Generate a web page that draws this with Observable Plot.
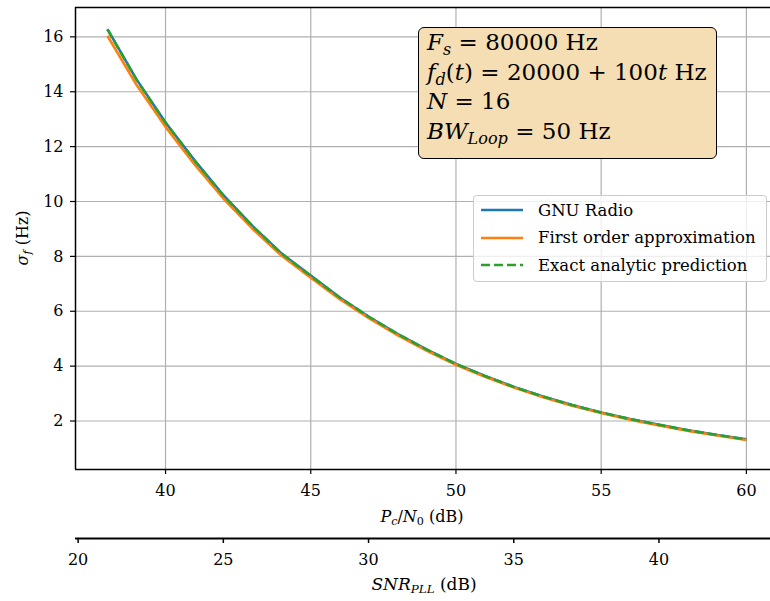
<!DOCTYPE html>
<html><head><meta charset="utf-8">
<script src="https://cdn.jsdelivr.net/npm/d3@7"></script>
<script src="https://cdn.jsdelivr.net/npm/@observablehq/plot@0.6"></script>
<style>
body{margin:0;background:#fff;}
#wrap{position:relative;width:770px;height:601px;overflow:hidden;font-family:"DejaVu Serif",serif;color:#000;}
#wrap svg{position:absolute;left:0;top:0;}
#wrap div, #wrap span, #wrap i{font-family:"DejaVu Serif",serif;}
.lab{position:absolute;font-size:16px;white-space:nowrap;transform:translate(-50%,-50%);}
sub{font-size:0.7em;vertical-align:-0.28em;line-height:0;}
#note{position:absolute;left:418px;top:27px;width:299px;height:132px;box-sizing:border-box;background:#f5deb3;border:1.5px solid #000;border-radius:6px;padding:0 0 0 8px;font-size:23px;line-height:29.5px;white-space:nowrap;}
#legend{position:absolute;left:473px;top:195px;width:294px;height:87px;box-sizing:border-box;background:rgba(255,255,255,0.8);border:1px solid #cccccc;border-radius:4px;font-size:16.5px;}
.row{position:absolute;left:7px;height:20px;display:flex;align-items:center;white-space:nowrap;}
.row svg{position:static !important;margin-right:15px;}
</style></head><body><div id="wrap"></div>
<script>
// ---- data ----
const pcN0 = [38,39,40,41,42,43,44,45,46,47,48,49,50,51,52,53,54,55,56,57,58,59,60];
const gnuRadio = [16.28,14.45,12.88,11.50,10.22,9.10,8.10,7.30,6.50,5.80,5.17,4.60,4.08,3.64,3.24,2.89,2.58,2.31,2.07,1.86,1.66,1.49,1.33];
const firstOrder = [16.04,14.25,12.72,11.35,10.10,9.00,8.02,7.22,6.44,5.75,5.12,4.56,4.05,3.61,3.22,2.87,2.56,2.29,2.05,1.84,1.64,1.47,1.31];
const exactAnalytic = [16.27,14.44,12.87,11.49,10.21,9.10,8.10,7.29,6.50,5.80,5.17,4.60,4.08,3.64,3.24,2.89,2.58,2.31,2.07,1.86,1.66,1.49,1.33];
const seriesNames = ["GNU Radio","First order approximation","Exact analytic prediction"];
const seriesColors = ["#1f77b4","#ff7f0e","#2ca02c"];
const seriesDash = [null,null,"9,4"];
const xTicks = [40,45,50,55,60];
const yTicks = [2,4,6,8,10,12,14,16];
const snrTicks = [20,25,30,35,40];
const xDomain = [36.9,60.83];
const yDomain = [0.233,17.07];
const snrDomain = [19.91,43.84];
const noteLines = [
  "<i>F</i><sub><i>s</i></sub> = 80000 Hz",
  "<i>f</i><sub><i>d</i></sub>(<i>t</i>) = 20000 + 100<i>t</i> Hz",
  "<i>N</i> = 16",
  "<i>BW</i><sub><i>Loop</i></sub> = 50 Hz"
];

const seriesValues = [gnuRadio, firstOrder, exactAnalytic];
const rows = seriesValues.map((vals,k)=>pcN0.map((x,i)=>({x, y: vals[i], s: seriesNames[k]})));

const wrap = document.getElementById("wrap");
const font = {fontFamily:"'DejaVu Serif', serif", fontSize:"16px", background:"transparent", color:"#000", overflow:"visible"};

const main = Plot.plot({
  width:770, height:601, marginLeft:75, marginRight:0, marginTop:7, marginBottom:132,
  style: font,
  x:{domain:xDomain},
  y:{domain:yDomain},
  marks:[
    Plot.gridX(xTicks,{stroke:"#b0b0b0", strokeOpacity:1, strokeWidth:1.2}),
    Plot.gridY(yTicks,{stroke:"#b0b0b0", strokeOpacity:1, strokeWidth:1.2}),
    ...rows.map((r,k)=>Plot.line(r,{x:"x", y:"y", stroke:seriesColors[k], strokeWidth:2.6, strokeDasharray:seriesDash[k], strokeLinecap:"butt"})),
    Plot.ruleX([xDomain[0]],{stroke:"#000", strokeWidth:1.5}),
    Plot.ruleY([yDomain[0]],{stroke:"#000", strokeWidth:1.5}),
    Plot.ruleY([yDomain[1]],{stroke:"#000", strokeWidth:1.5}),
    Plot.axisX(xTicks,{tickSize:5, tickPadding:10, label:null, strokeWidth:1.2, fontFamily:"DejaVu Serif"}),
    Plot.axisY(yTicks,{tickSize:5, tickPadding:7, label:null, strokeWidth:1.2, fontFamily:"DejaVu Serif"})
  ]
});
wrap.appendChild(main);

const sec = Plot.plot({
  width:770, height:601, marginLeft:75, marginRight:0, marginTop:537, marginBottom:63,
  style: font,
  x:{domain:snrDomain},
  y:{domain:[0,1], axis:null},
  marks:[
    Plot.ruleY([0],{stroke:"#000", strokeWidth:1.8}),
    Plot.axisX(snrTicks,{tickSize:5, tickPadding:10, label:null, strokeWidth:1.5, fontFamily:"DejaVu Serif"})
  ]
});
wrap.appendChild(sec);

function addLabel(html, x, y, rotate, size){
  const d = document.createElement("div");
  d.className = "lab";
  d.innerHTML = html;
  d.style.left = x+"px"; d.style.top = y+"px";
  if (size) d.style.fontSize = size+"px";
  if (rotate) d.style.transform = "translate(-50%,-50%) rotate(-90deg)";
  wrap.appendChild(d);
}
addLabel("<i>P<sub>c</sub></i>/<i>N</i><sub>0</sub> (dB)", 422, 516);
addLabel("<i>SNR<sub>PLL</sub></i> (dB)", 424, 584, false, 17);
addLabel("<i>σ<sub>f</sub></i> (Hz)", 22, 238, true);

const note = document.createElement("div");
note.id = "note";
note.innerHTML = noteLines.map(l=>"<div>"+l+"</div>").join("");
wrap.appendChild(note);

const legend = document.createElement("div");
legend.id = "legend";
legend.innerHTML = seriesNames.map((n,k)=>
  `<div class="row" style="top:${4+k*27.5}px"><svg width="42" height="6"><line x1="0" y1="3" x2="42" y2="3" stroke="${seriesColors[k]}" stroke-width="2.6" ${seriesDash[k]?`stroke-dasharray="${seriesDash[k]}"`:""}/></svg><span>${n}</span></div>`
).join("");
wrap.appendChild(legend);
</script></body></html>
